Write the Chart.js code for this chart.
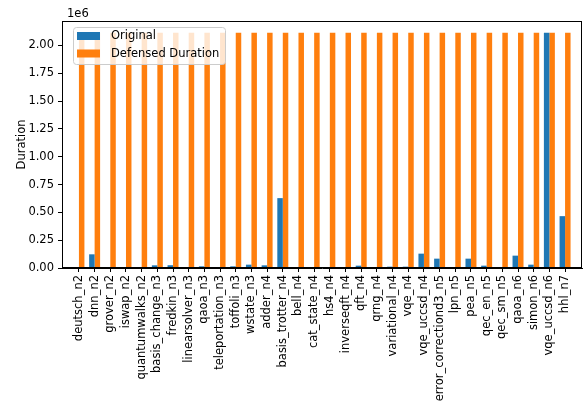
<!DOCTYPE html>
<html>
<head>
<meta charset="utf-8">
<script src="https://cdn.jsdelivr.net/npm/chart.js@4/dist/chart.umd.min.js"></script>
<style>
  html, body { margin: 0; padding: 0; background: #fff; }
  #wrap { width: 584px; height: 406px; }
</style>
</head>
<body>
<div id="wrap"><canvas id="chart" width="584" height="406"></canvas></div>
<script>
// Circuits, ordered by qubit count
const circuits = [
  'deutsch_n2', 'dnn_n2', 'grover_n2', 'iswap_n2', 'quantumwalks_n2',
  'basis_change_n3', 'fredkin_n3', 'linearsolver_n3', 'qaoa_n3', 'teleportation_n3',
  'toffoli_n3', 'wstate_n3', 'adder_n4', 'basis_trotter_n4', 'bell_n4',
  'cat_state_n4', 'hs4_n4', 'inverseqft_n4', 'qft_n4', 'qrng_n4',
  'variational_n4', 'vqe_n4', 'vqe_uccsd_n4', 'error_correctiond3_n5', 'lpn_n5',
  'pea_n5', 'qec_en_n5', 'qec_sm_n5', 'qaoa_n6', 'simon_n6',
  'vqe_uccsd_n6', 'hhl_n7'
];

// Circuit durations
const originalDuration = [
  3000, 123000, 4000, 4000, 4000,
  24000, 25000, 4000, 15000, 5000,
  15000, 30000, 24000, 628000, 4000,
  4000, 4000, 4000, 21000, 3000,
  12000, 12000, 129000, 84000, 4000,
  84000, 21000, 4000, 111000, 30000,
  2115000, 466000
];
const defensedDuration = [
  2115000, 2115000, 2115000, 2115000, 2115000,
  2115000, 2115000, 2115000, 2115000, 2115000,
  2115000, 2115000, 2115000, 2115000, 2115000,
  2115000, 2115000, 2115000, 2115000, 2115000,
  2115000, 2115000, 2115000, 2115000, 2115000,
  2115000, 2115000, 2115000, 2115000, 2115000,
  2115000, 2115000
];

const seriesNames = ['Original', 'Defensed Duration'];
const seriesColors = ['#1f77b4', '#ff7f0e'];
const yTicks = [0, 250000, 500000, 750000, 1000000, 1250000, 1500000, 1750000, 2000000];

const FONT = 'DejaVu Sans';
Chart.defaults.font.family = FONT;
Chart.defaults.font.size = 11.5;
Chart.defaults.color = '#000';

// Legend box, offset text and the full frame, drawn on top of the plot
const decor = {
  id: 'decor',
  afterDatasetsDraw(chart){
    const ctx = chart.ctx;
    const a = chart.chartArea;
    ctx.save();
    // legend
    const lx = a.left + 11, ly = a.top + 6, lw = 152, lh = 37;
    ctx.beginPath();
    ctx.roundRect(lx + 0.5, ly + 0.5, lw, lh, 3);
    ctx.fillStyle = 'rgba(255,255,255,0.8)';
    ctx.fill();
    ctx.strokeStyle = '#cccccc';
    ctx.lineWidth = 1;
    ctx.stroke();
    ctx.font = '11.5px ' + FONT;
    ctx.textBaseline = 'middle';
    seriesNames.forEach((name, i) => {
      const y = ly + 5 + i * 17.5;
      ctx.fillStyle = seriesColors[i];
      ctx.fillRect(lx + 4, y, 23, 8);
      ctx.fillStyle = '#000';
      ctx.fillText(name, lx + 38, y + 4.5);
    });
    // axis offset label
    ctx.textBaseline = 'alphabetic';
    ctx.fillText('1e6', a.left + 5, a.top - 4);
    ctx.restore();
  },
  afterDraw(chart){
    const ctx = chart.ctx;
    const a = chart.chartArea;
    ctx.save();
    ctx.strokeStyle = '#000';
    ctx.lineWidth = 1;
    ctx.strokeRect(a.left + 0.5, a.top + 0.5, a.right - a.left - 1, a.bottom - a.top - 1);
    ctx.restore();
  }
};

new Chart(document.getElementById('chart'), {
  type: 'bar',
  data: {
    datasets: [
      {
        label: seriesNames[0],
        data: circuits.map((c, i) => ({x: i, y: originalDuration[i]})),
        backgroundColor: seriesColors[0],
        categoryPercentage: 0.7,
        barPercentage: 1.0
      },
      {
        label: seriesNames[1],
        data: circuits.map((c, i) => ({x: i, y: defensedDuration[i]})),
        backgroundColor: seriesColors[1],
        categoryPercentage: 0.7,
        barPercentage: 1.0
      }
    ]
  },
  options: {
    responsive: false,
    animation: false,
    layout: { padding: { top: 21, right: 2, left: 0, bottom: 0 } },
    plugins: {
      legend: { display: false },
      tooltip: { enabled: false }
    },
    scales: {
      x: {
        type: 'linear',
        min: -1.08,
        max: 32.08,
        offset: false,
        grid: { display: true, offset: false, drawOnChartArea: false, drawTicks: true, tickLength: 4, tickColor: '#000' },
        border: { color: '#000', width: 1 },
        afterBuildTicks: axis => { axis.ticks = circuits.map((c, i) => ({value: i})); },
        afterFit: axis => { axis.height = 138; },
        ticks: {
          autoSkip: false,
          minRotation: 90,
          maxRotation: 90,
          padding: 3,
          callback: v => circuits[v]
        }
      },
      y: {
        type: 'linear',
        min: 0,
        max: 2220000,
        grid: { display: true, drawOnChartArea: false, drawTicks: true, tickLength: 4, tickColor: '#000' },
        border: { color: '#000', width: 1 },
        afterBuildTicks: axis => { axis.ticks = yTicks.map(v => ({value: v})); },
        afterFit: axis => { axis.width = 62; },
        title: { display: true, text: 'Duration', padding: { top: 15, bottom: 0 } },
        ticks: {
          padding: 4,
          callback: v => (v / 1e6).toFixed(2)
        }
      }
    }
  },
  plugins: [decor]
});
</script>
</body>
</html>
